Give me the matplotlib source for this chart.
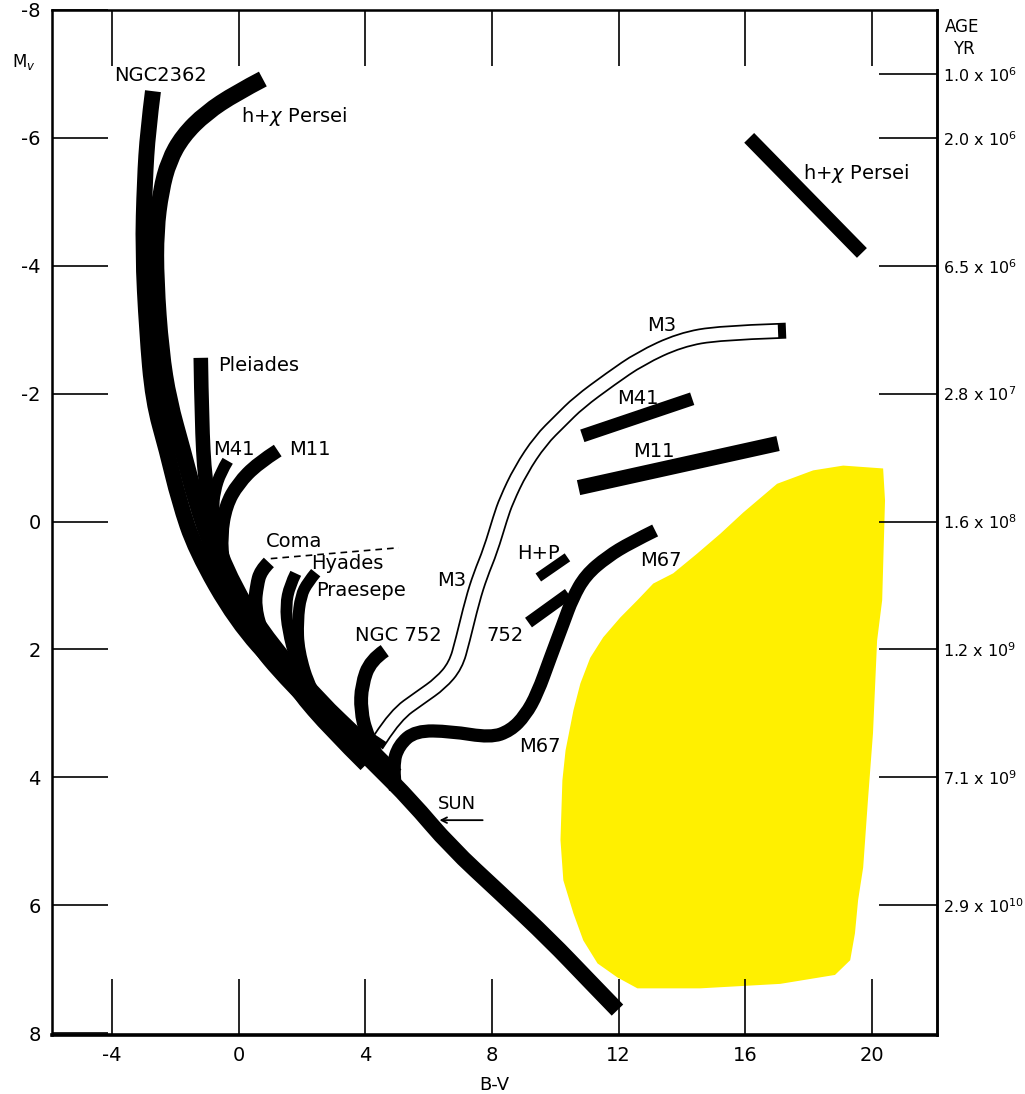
import matplotlib.pyplot as plt
from matplotlib.path import Path
from matplotlib.patches import PathPatch

ngc2362_x = [-2.71, -2.87, -2.97, -3.03, -2.90, -2.71, -2.27, -1.89, -1.36, -0.09, 1.32, 2.90, 4.32, 5.43, 6.69, 8.26, 9.84, 11.04, 11.96]
ngc2362_y = [-6.73, -6.11, -5.33, -4.23, -2.98, -1.89, -1.11, -0.33, 0.45, 1.55, 2.33, 3.11, 3.81, 4.36, 5.09, 5.81, 6.55, 7.17, 7.64]

persei_x = [0.76, -0.09, -1.04, -1.77, -2.21, -2.46, -2.62, -2.62, -2.46, -2.21, -1.77, -1.36, -0.82, 0.06, 1.17, 2.52, 3.85, 4.95]
persei_y = [-6.92, -6.70, -6.39, -6.03, -5.64, -5.17, -4.55, -3.77, -2.67, -1.89, -1.11, -0.33, 0.45, 1.23, 2.02, 2.80, 3.42, 3.97]

pleiades_x = [-1.20, -1.17, -1.07, -0.82, -0.25, 0.69]
pleiades_y = [-2.56, -1.58, -0.64, 0.14, 0.92, 1.70]

m41_x = [-0.35, -0.57, -0.76, -0.82, -0.73]
m41_y = [-0.95, -0.77, -0.48, -0.17, 0.30]

m11_x = [1.23, 0.60, -0.03, -0.41, -0.57, -0.50, -0.19, 0.44, 1.48, 2.90]
m11_y = [-1.11, -0.91, -0.59, -0.25, 0.22, 0.69, 1.23, 1.86, 2.48, 3.19]

coma_x = [0.95, 0.69, 0.57, 0.50, 0.69, 1.10, 1.80, 2.90, 4.00]
coma_y = [0.64, 0.77, 1.00, 1.31, 1.70, 2.09, 2.64, 3.27, 3.81]

hyades_x = [1.80, 1.61, 1.48, 1.55, 1.80, 2.43, 3.38, 4.32]
hyades_y = [0.81, 1.00, 1.31, 1.70, 2.17, 2.80, 3.34, 3.81]

praesepe_x = [2.43, 2.18, 1.96, 1.86, 1.89, 2.27, 3.06, 4.16]
praesepe_y = [0.80, 0.95, 1.16, 1.55, 2.02, 2.64, 3.19, 3.73]

ngc752_x = [4.61, 4.16, 3.88, 3.85, 4.04, 4.42]
ngc752_y = [2.02, 2.17, 2.56, 2.95, 3.34, 3.73]

m3_x = [4.48, 4.95, 5.74, 6.37, 6.85, 7.07, 7.38, 7.63, 7.95, 8.26, 8.45, 8.90, 9.53, 10.16, 10.73, 11.74, 12.68, 13.94, 15.20, 17.03]
m3_y = [3.39, 3.03, 2.75, 2.53, 2.25, 1.86, 1.23, 0.84, 0.45, -0.06, -0.33, -0.80, -1.27, -1.58, -1.86, -2.23, -2.55, -2.84, -2.95, -2.98]

m67_x = [4.95, 4.86, 5.05, 5.58, 6.69, 7.95, 8.58, 9.05, 9.43, 9.84, 10.25, 10.54, 10.95, 11.64, 12.37, 13.15]
m67_y = [4.20, 3.81, 3.50, 3.27, 3.28, 3.38, 3.27, 3.03, 2.69, 2.13, 1.59, 1.20, 0.84, 0.55, 0.33, 0.14]

bar752_x = [9.15, 10.41]
bar752_y = [1.58, 1.13]
hp_x = [9.46, 10.38]
hp_y = [0.875, 0.56]
m41_red_x = [10.85, 14.32]
m41_red_y = [-1.34, -1.92]
m11_red_x = [10.73, 17.03]
m11_red_y = [-0.53, -1.22]
persei_red_x = [16.12, 19.68]
persei_red_y = [-6.00, -4.20]

coma_dash_x = [1.01, 5.05]
coma_dash_y = [0.58, 0.41]

# yellow patch
blob_x = [19.09, 20.35, 20.41, 20.32, 20.16, 20.03, 19.87, 19.72, 19.56, 19.46, 19.31, 18.83,
          17.10, 14.57, 12.59, 11.96, 11.33, 10.88, 10.57, 10.25, 10.16, 10.22, 10.32, 10.57,
          10.79, 11.10, 11.51, 12.05, 12.59, 13.09, 13.72, 14.48, 15.21, 15.93, 17.00, 18.14]
blob_y = [-0.875, -0.83, -0.33, 1.23, 1.86, 3.31, 4.36, 5.41, 5.92, 6.44, 6.86, 7.09,
          7.23, 7.30, 7.30, 7.13, 6.91, 6.55, 6.13, 5.61, 4.98, 4.05, 3.58, 2.95,
          2.53, 2.13, 1.81, 1.50, 1.23, 0.97, 0.81, 0.50, 0.19, -0.14, -0.59, -0.80]

xticks = [-4, 0, 4, 8, 12, 16, 20]
yticks = [-8, -6, -4, -2, 0, 2, 4, 6, 8]
age_ticks = [-7, -6, -4, -2, 0, 2, 4, 6]
age_labels = [r"1.0 x 10$^{6}$", r"2.0 x 10$^{6}$", r"6.5 x 10$^{6}$", r"2.8 x 10$^{7}$",
              r"1.6 x 10$^{8}$", r"1.2 x 10$^{9}$", r"7.1 x 10$^{9}$", r"2.9 x 10$^{10}$"]

labels = [
    ("NGC2362", -3.95, -6.97), (r"h+$\chi$ Persei", 0.06, -6.34), (r"h+$\chi$ Persei", 17.82, -5.45),
    ("Pleiades", -0.66, -2.44), ("M41", -0.82, -1.13), ("M11", 1.58, -1.13),
    ("Coma", 0.85, 0.31), ("Hyades", 2.30, 0.66), ("Praesepe", 2.43, 1.08),
    ("NGC 752", 3.66, 1.78), ("M3", 6.25, 0.92), ("752", 7.82, 1.78), ("H+P", 8.80, 0.50),
    ("M67", 12.68, 0.61), ("M67", 8.86, 3.52), ("M3", 12.90, -3.06),
    ("M41", 11.96, -1.92), ("M11", 12.46, -1.09),
]


def smooth_band(ax, xs, ys, color, lw, cap="butt", z=3):
    # quadratic bezier through the midpoints, read points act as control points
    pts = list(zip(xs, ys))
    verts = [pts[0]]
    codes = [Path.MOVETO]
    for i in range(1, len(pts) - 1):
        mid = ((pts[i][0] + pts[i + 1][0]) / 2, (pts[i][1] + pts[i + 1][1]) / 2)
        end = mid if i < len(pts) - 2 else pts[-1]
        verts += [pts[i], end]
        codes += [Path.CURVE3, Path.CURVE3]
    if len(pts) == 2:
        verts.append(pts[1])
        codes.append(Path.LINETO)
    patch = PathPatch(Path(verts, codes), facecolor="none", edgecolor=color, lw=lw,
                      capstyle=cap, joinstyle="round", zorder=z)
    ax.add_patch(patch)


plt.rcParams["font.family"] = ["DejaVu Sans"]
fig = plt.figure(figsize=(10.25, 10.94), dpi=100)
ax = fig.add_axes([0.0507, 0.0539, 0.8634, 0.937])

ax.fill(blob_x, blob_y, color="#fff000", lw=0, zorder=1)

# M3 drawn as an open (outlined) band
smooth_band(ax, m3_x, m3_y, "black", 11.5, cap="projecting", z=2)
smooth_band(ax, m3_x, m3_y, "white", 9.0, cap="butt", z=2.1)

bands = [
    (ngc2362_x, ngc2362_y, 11.5), (persei_x, persei_y, 12), (pleiades_x, pleiades_y, 10.5),
    (m41_x, m41_y, 8.5), (m11_x, m11_y, 10), (coma_x, coma_y, 10), (hyades_x, hyades_y, 8.5),
    (praesepe_x, praesepe_y, 8.5), (ngc752_x, ngc752_y, 10), (m67_x, m67_y, 9.5),
    (bar752_x, bar752_y, 8.5), (hp_x, hp_y, 7), (m41_red_x, m41_red_y, 9.5),
    (m11_red_x, m11_red_y, 11), (persei_red_x, persei_red_y, 10),
]
for bx, by, w in bands:
    smooth_band(ax, bx, by, "black", w)

ax.plot(coma_dash_x, coma_dash_y, color="black", lw=1.2, ls=(0, (4, 3)), zorder=3)

for txt, tx, ty in labels:
    ax.text(tx, ty, txt, fontsize=14, va="center", ha="left", zorder=4)

# sun marker
ax.annotate("", xy=(6.25, 4.67), xytext=(7.79, 4.67),
            arrowprops=dict(arrowstyle="->", color="black", lw=1.3))
ax.text(6.28, 4.42, "SUN", fontsize=13, va="center", ha="left")

ax.set_xlim(-5.9, 22.05)
ax.set_ylim(8.03, -8.0)
ax.set_xticks(xticks)
ax.set_xticklabels([str(t) for t in xticks])
ax.set_yticks(yticks)
ax.set_yticklabels([str(t) for t in yticks])
ax.tick_params(direction="in", length=40, width=1.2, labelsize=14, top=True, right=False, pad=8)
ax.set_xlabel("B-V", fontsize=13, labelpad=8)
for side in ["left", "top", "right"]:
    ax.spines[side].set_linewidth(1.8)
ax.spines["bottom"].set_linewidth(2.6)

ax2 = ax.twinx()
ax2.set_ylim(ax.get_ylim())
ax2.set_yticks(age_ticks)
ax2.set_yticklabels(age_labels)
ax2.tick_params(direction="in", length=42, width=1.2, labelsize=11.5, pad=4)
ax2.spines["right"].set_linewidth(1.8)

fig.text(0.922, 0.975, "AGE", fontsize=12, ha="left", va="center")
fig.text(0.93, 0.955, "YR", fontsize=12, ha="left", va="center")
fig.text(0.012, 0.943, r"M$_v$", fontsize=12, ha="left", va="center")

fig.savefig("out.png", dpi=100)
